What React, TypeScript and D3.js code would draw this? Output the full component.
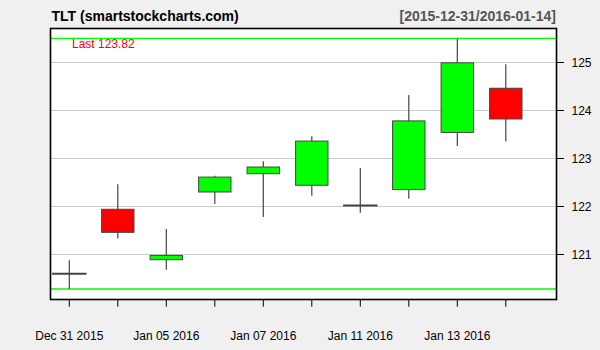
import React from "react";
import * as d3 from "d3";

const dates = ["2015-12-31","2016-01-04","2016-01-05","2016-01-06","2016-01-07","2016-01-08","2016-01-11","2016-01-12","2016-01-13","2016-01-14"];
const opens = [120.60, 121.94, 120.89, 122.30, 122.68, 122.44, 122.02, 122.35, 123.54, 124.46];
const highs = [120.88, 122.46, 121.53, 122.64, 122.94, 123.46, 122.80, 124.32, 125.50, 124.96];
const lows = [120.28, 121.33, 120.68, 122.05, 121.78, 122.22, 121.87, 122.16, 123.26, 123.35];
const closes = [120.60, 121.46, 120.98, 122.61, 122.82, 123.36, 122.02, 123.78, 124.99, 123.82];
const yTicks = [121, 122, 123, 124, 125];
const labelEvery = 2;
const title = "TLT (smartstockcharts.com)";
const rangeTitle = "[2015-12-31/2016-01-14]";

const W = 600, H = 350;
const box = { left: 50.5, right: 556.5, top: 28.5, bottom: 299.5 };

export default function App() {
  const n = dates.length;
  const hi = d3.max(highs) as number;
  const lo = d3.min(lows) as number;
  const x = d3.scaleLinear().domain([0, n - 1]).range([69.3, 505.8]);
  const y = d3.scaleLinear().domain([lo, hi]).range([289, 38.3]);
  const bw = 32.4;
  const parse = d3.timeParse("%Y-%m-%d");
  const fmt = d3.timeFormat("%b %d %Y");
  const last = closes[n - 1];
  const font = "'Liberation Sans', Arial, sans-serif";
  return (
    <svg width={W} height={H} style={{ position: "absolute", left: 0, top: 0 }} fontFamily={font}>
      <rect x={0} y={0} width={W} height={H} fill="#f0f0f0" />
      <rect x={box.left} y={box.top} width={box.right - box.left} height={box.bottom - box.top} fill="#ffffff" />
      {yTicks.map((t) => (
        <g key={t}>
          <line x1={box.left} x2={box.right} y1={Math.round(y(t)) + 0.5} y2={Math.round(y(t)) + 0.5} stroke="#cccccc" strokeWidth={1} />
          <line x1={box.right} x2={564} y1={Math.round(y(t)) + 0.5} y2={Math.round(y(t)) + 0.5} stroke="#000" strokeWidth={1} />
          <text x={571.5} y={y(t)} dy="0.36em" fontSize={12} fill="#000">{t}</text>
        </g>
      ))}
      <line x1={box.left} x2={box.right} y1={y(hi)} y2={y(hi)} stroke="#00ff00" strokeWidth={1.3} />
      <line x1={box.left} x2={box.right} y1={y(lo)} y2={y(lo)} stroke="#00ff00" strokeWidth={1.3} />
      <text x={72} y={48} fontSize={12} fill="#ff0000">{`Last ${last.toFixed(2)}`}</text>
      {dates.map((d, i) => {
        const cx = x(i);
        const o = opens[i], c = closes[i];
        const up = c > o;
        const doji = o === c;
        return (
          <g key={d}>
            <line x1={cx} x2={cx} y1={y(highs[i])} y2={y(lows[i])} stroke="#444444" strokeWidth={1.2} />
            {doji ? (
              <line x1={cx - bw / 2 - 1} x2={cx + bw / 2 + 1} y1={y(o)} y2={y(o)} stroke="#444444" strokeWidth={2} />
            ) : (
              <rect x={cx - bw / 2} y={y(Math.max(o, c))} width={bw} height={Math.abs(y(o) - y(c))}
                fill={up ? "#00ff00" : "#ff0000"} stroke="#444444" strokeWidth={1} />
            )}
            <line x1={cx} x2={cx} y1={box.bottom} y2={306.7} stroke="#000" strokeWidth={1} />
            {i % labelEvery === 0 && (
              <text x={cx} y={339.5} fontSize={12} textAnchor="middle" fill="#000">{fmt(parse(d) as Date)}</text>
            )}
          </g>
        );
      })}
      <rect x={box.left} y={box.top} width={box.right - box.left} height={box.bottom - box.top} fill="none" stroke="#000" strokeWidth={1.6} />
      <text x={51.5} y={20.5} fontSize={14} fontWeight="bold" fill="#000">{title}</text>
      <text x={556} y={20.5} fontSize={14} fontWeight="bold" fill="#555555" textAnchor="end">{rangeTitle}</text>
    </svg>
  );
}
